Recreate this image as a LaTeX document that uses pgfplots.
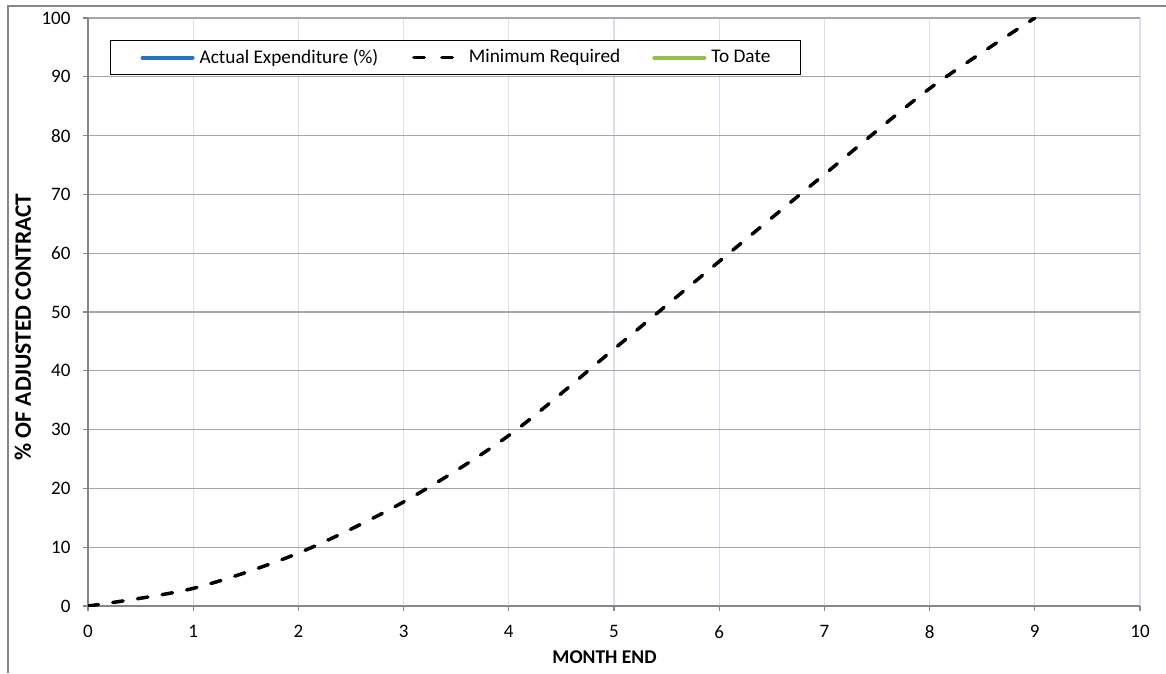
\documentclass[border=0pt]{standalone}
\usepackage{fontspec}
\setmainfont{Carlito}
\usepackage{pgfplots}
\pgfplotsset{compat=1.18}
\definecolor{axgray}{HTML}{868686}
\definecolor{gridgray}{HTML}{A6A6A6}
\definecolor{gridblue}{HTML}{D6E0EE}
\definecolor{serblue}{HTML}{2672C0}
\definecolor{sergreen}{HTML}{92C04F}
\begin{document}
\fontsize{19}{23}\selectfont
\begin{tikzpicture}[x=1pt,y=1pt]
\useasboundingbox (0,0) rectangle (1166,673);
\draw[axgray, line width=1.3pt] (8,0) -- (8,667) -- (1166,667);
\begin{axis}[
  at={(88pt,67pt)}, anchor=south west,
  scale only axis, width=1052pt, height=588pt,
  xmin=0, xmax=10, ymin=0, ymax=100,
  xtick={0,1,...,10}, ytick={0,10,...,100},
  axis lines*=left,
  axis line style={axgray, line width=1.6pt},
  tick align=outside,
  major tick length=5pt,
  tick style={axgray, line width=1.2pt},
  grid=major,
  x grid style={gridblue, line width=1.2pt},
  y grid style={gridgray, line width=1.2pt},
  /pgf/number format/assume math mode=true,
  ticklabel style={font=\fontsize{19}{23}\selectfont},
  xticklabel style={yshift=-8pt},
  yticklabel style={xshift=-6pt},
  xlabel={\textbf{MONTH END}},
  ylabel={\textbf{\% OF ADJUSTED CONTRACT}},
  x label style={font=\fontsize{19.5}{23}\selectfont, at={(axis description cs:0.491,-0.0867)}, anchor=center},
  y label style={font=\fontsize{23.5}{27}\selectfont, at={(axis description cs:-0.0618,0.4745)}, anchor=center, rotate=0},
  legend columns=3,
  legend cell align=left,
  legend style={at={(0.0209,0.9626)}, anchor=north west, draw=black, line width=1.2pt,
    font=\fontsize{19.3}{23}\selectfont, inner xsep=30pt, inner ysep=6.5pt,
    nodes={inner xsep=0pt},
    /tikz/every odd column/.append style={column sep=5pt},
    /tikz/every even column/.append style={column sep=32pt}},
  legend image code/.code={\draw[#1] (5pt,0pt) -- (55pt,0pt);},
]
\addlegendimage{serblue, line width=4pt, line cap=round}
\addlegendentry{Actual Expenditure (\%)}
\addplot[black, line width=3.5pt, dash pattern=on 10.5pt off 14.5pt, line cap=round, smooth, tension=0.5,
  legend image post style={dash pattern=on 10.5pt off 17.5pt, dash phase=26.25pt}]
  coordinates {(0,0) (1,3.0) (2,9.0) (3,17.7) (4,29.0) (5,43.7) (6,58.6) (7,73.4) (8,88.0) (9,100)};
\addlegendentry{Minimum Required}
\addlegendimage{sergreen, line width=4pt, line cap=round}
\addlegendentry{To Date}
\end{axis}
\end{tikzpicture}
\end{document}
